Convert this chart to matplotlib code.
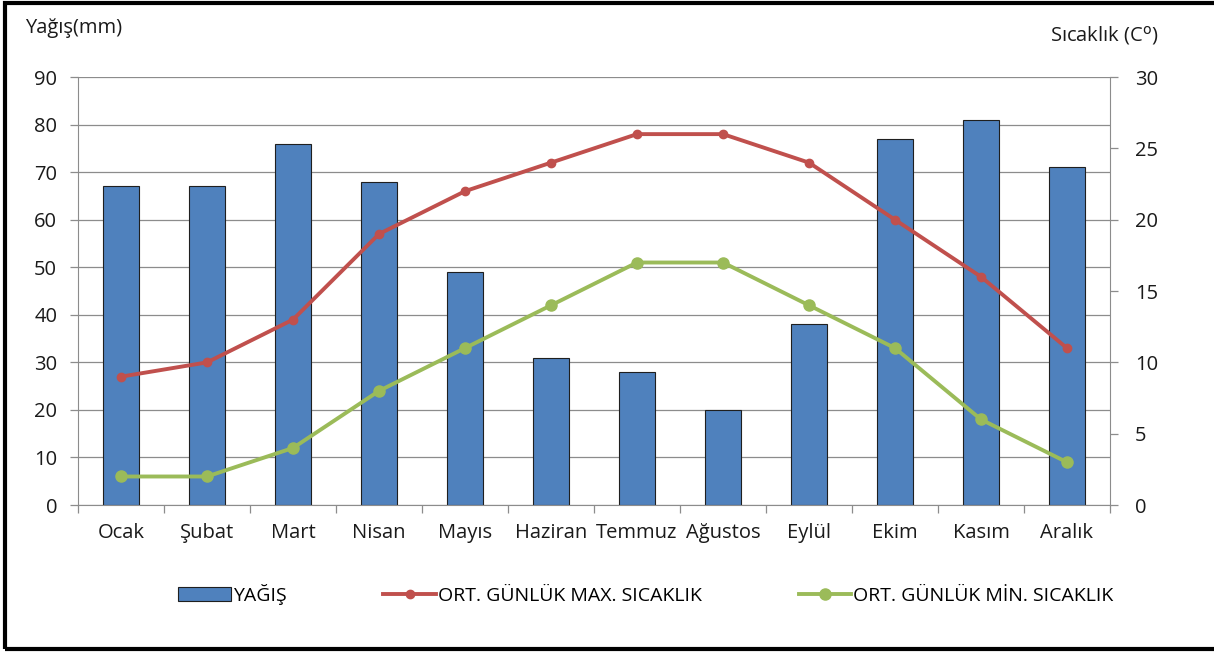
import matplotlib.pyplot as plt
import numpy as np

plt.rcParams['font.family'] = ['Open Sans', 'DejaVu Sans']

aylar = ['Ocak', 'Şubat', 'Mart', 'Nisan', 'Mayıs', 'Haziran', 'Temmuz',
         'Ağustos', 'Eylül', 'Ekim', 'Kasım', 'Aralık']
yagis = [67, 67, 76, 68, 49, 31, 28, 20, 38, 77, 81, 71]
max_sicaklik = [9, 10, 13, 19, 22, 24, 26, 26, 24, 20, 16, 11]
min_sicaklik = [2, 2, 4, 8, 11, 14, 17, 17, 14, 11, 6, 3]

fig = plt.figure(figsize=(12.14, 6.53), dpi=100)
ax = fig.add_axes([0.0643, 0.2266, 0.85, 0.6554])
ax2 = ax.twinx()

x = np.arange(len(aylar))
bars = ax.bar(x, yagis, width=0.41, color='#4F81BD', edgecolor='#1f1f1f',
              linewidth=0.8, label='YAĞIŞ', zorder=2)
ax.set_ylim(0, 90)
ax.set_yticks(range(0, 91, 10))
ax.set_xlim(-0.5, len(aylar) - 0.5)
ax.yaxis.grid(True, color='#8c8c8c', linewidth=0.9, zorder=0)
ax.set_axisbelow(True)

l1, = ax2.plot(x, max_sicaklik, color='#C0504D', linewidth=2.8, marker='o',
               markersize=6, label='ORT. GÜNLÜK MAX. SICAKLIK')
l2, = ax2.plot(x, min_sicaklik, color='#9BBB59', linewidth=2.8, marker='o',
               markersize=8, label='ORT. GÜNLÜK MİN. SICAKLIK')
ax2.set_ylim(0, 30)
ax2.set_yticks(range(0, 31, 5))

# eksen görünümü
for a in (ax, ax2):
    for s in a.spines.values():
        s.set_visible(False)
    a.tick_params(axis='y', colors='#8c8c8c', labelcolor='#1a1a1a',
                  labelsize=14.5, length=6, width=0.9)
ax.spines['left'].set_visible(True)
ax.spines['left'].set_color('#8c8c8c')
ax.spines['bottom'].set_visible(True)
ax.spines['bottom'].set_color('#8c8c8c')
ax2.spines['right'].set_visible(True)
ax2.spines['right'].set_color('#8c8c8c')
ax.tick_params(axis='y', pad=9)
ax2.tick_params(axis='y', pad=12)

ax.set_xticks(x)
ax.set_xticklabels(aylar, fontsize=14.5, color='#1a1a1a')
ax.set_xticks(np.arange(-0.5, len(aylar), 1), minor=True)
ax.tick_params(axis='x', which='major', length=0, pad=13)
ax.tick_params(axis='x', which='minor', length=6, color='#8c8c8c', width=0.9)

fig.text(0.021, 0.957, 'Yağış(mm)', fontsize=14.5, color='#1a1a1a', va='center')
fig.text(0.91, 0.945, 'Sıcaklık (C$^{\\mathrm{o}}$)', fontsize=14.5,
         color='#1a1a1a', va='center', ha='center')

fig.legend([bars, l1, l2], [bars.get_label(), l1.get_label(), l2.get_label()],
           loc='center', bbox_to_anchor=(0.532, 0.09), ncol=3, frameon=False,
           fontsize=14, columnspacing=5.0, handlelength=2.7, handletextpad=0.1)

# çerçeve
fig.patches.append(plt.Rectangle((0.004, 0.006), 1.2, 0.99, transform=fig.transFigure,
                                 fill=False, edgecolor='black', linewidth=3))

fig.savefig('out.png', dpi=100)
